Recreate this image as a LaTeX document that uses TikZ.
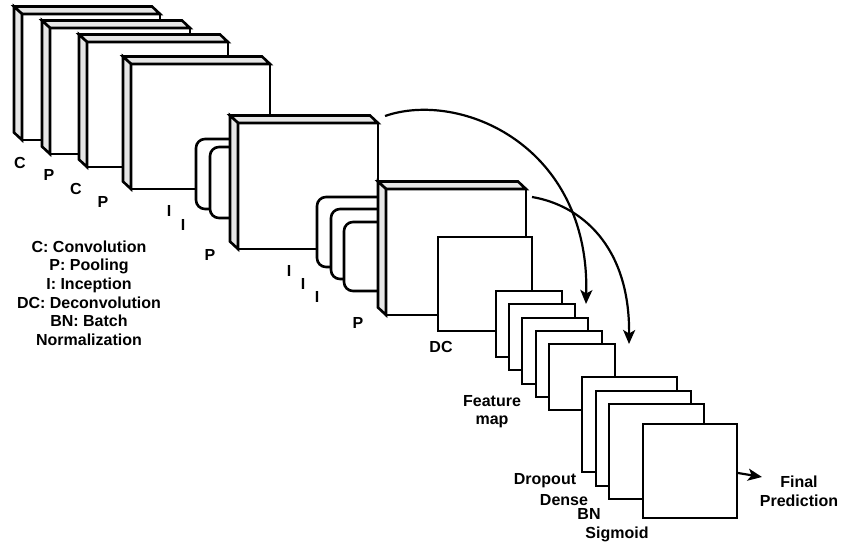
\documentclass[tikz,border=0pt]{standalone}
\usepackage{fontspec}
\setmainfont{Liberation Sans}
\usetikzlibrary{arrows.meta}
\definecolor{sidegray}{HTML}{E6E6E6}
\tikzset{
  cubeline/.style={line width=2.6pt, line join=miter, draw=black},
  lbl/.style={font=\bfseries\fontsize{16}{18.6}\selectfont, inner sep=0pt, align=center},
  arr/.style={line width=2.2pt, -{Stealth[length=14pt,width=12pt,inset=3.5pt]}}
}
\newcommand\cubebox[4]{%
  \filldraw[cubeline, fill=white] (#1,#2) rectangle (#3,#4);
  \filldraw[cubeline, fill=sidegray] (#1-8,#2-7.5) -- (#3-8,#2-7.5) -- (#3,#2) -- (#1,#2) -- cycle;
  \filldraw[cubeline, fill=sidegray] (#1-8,#2-7.5) -- (#1,#2) -- (#1,#4) -- (#1-8,#4-7.5) -- cycle;}
\newcommand\incblock[4]{% xL yT yB xR
  \filldraw[cubeline, fill=white, rounded corners=9pt] (#4,#2) -- (#1,#2) -- (#1,#3) -- (#4,#3);}
\newcommand\sqbox[3]{% x y size
  \filldraw[cubeline, fill=white] (#1,#2) rectangle ++(#3,#3);}
\begin{document}
\begin{tikzpicture}[x=1pt,y=-1pt]
\useasboundingbox (0,0) rectangle (842,546);
% encoder boxes
\cubebox{22}{14}{160}{140}
\cubebox{50}{28}{190}{154}
\cubebox{87}{42}{228}{167}
\cubebox{131}{64}{270}{189}
\incblock{196}{139}{209}{236}
\incblock{210}{147}{218}{236}
\cubebox{238}{123}{378}{249}
\incblock{317}{197}{267}{384}
\incblock{331}{209}{279}{384}
\incblock{344}{222}{291}{384}
\cubebox{386}{189}{526}{315}
% deconvolution
\sqbox{438}{237}{94}
% feature maps
\sqbox{496}{291}{66}
\sqbox{509}{304}{66}
\sqbox{522}{318}{66}
\sqbox{536}{331}{66}
\sqbox{549}{344}{66}
% head
\sqbox{582}{377}{95}
\sqbox{596}{391}{95}
\sqbox{609}{404}{95}
\sqbox{643}{424}{94}
% arrows
\coordinate (a1s) at (385,116);
\coordinate (a1e) at (586,304);
\coordinate (a2s) at (532,197);
\coordinate (a2e) at (629,344);
\coordinate (a3s) at (738,473);
\coordinate (a3e) at (762,477);
\draw[arr] (a1s) .. controls (460,90) and (590,145) .. (a1e);
\draw[arr] (a2s) .. controls (580,205) and (630,245) .. (a2e);
\draw[arr] (a3s) -- (a3e);
% labels
\node[lbl] (lc1) at (20,163) {C};
\node[lbl] (lp1) at (49,175) {P};
\node[lbl] (lc2) at (76,189) {C};
\node[lbl] (lp2) at (103,202) {P};
\node[lbl] (li1) at (169,211) {I};
\node[lbl] (li2) at (183,225) {I};
\node[lbl] (lp3) at (210,255) {P};
\node[lbl] (li3) at (289,271) {I};
\node[lbl] (li4) at (303,284) {I};
\node[lbl] (li5) at (317,297) {I};
\node[lbl] (lp4) at (358,323) {P};
\node[lbl] (ldc) at (441,347) {DC};
\node[lbl] (lfm) at (492,411.5) {Feature\\map};
\node[lbl] (ldo) at (545,481) {Dropout};
\node[lbl] (lde) at (564,500) {Dense};
\node[lbl] (lbn) at (589,514) {BN};
\node[lbl] (lsg) at (617,534) {Sigmoid};
\node[lbl] (lfp) at (799,491) {Final\\Prediction};
\node[lbl] (legend) at (89,293) {C: Convolution\\P: Pooling\\I: Inception\\DC: Deconvolution\\BN: Batch\\Normalization};
\end{tikzpicture}
\end{document}
